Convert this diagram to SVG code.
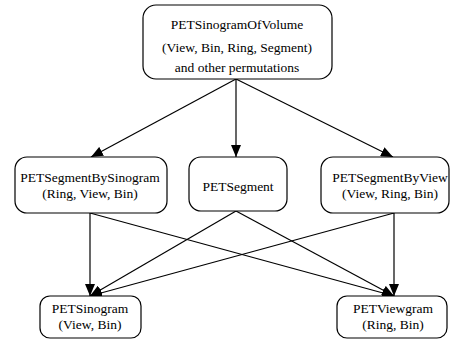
<svg xmlns="http://www.w3.org/2000/svg" width="451" height="340" viewBox="0 0 451 340">
<defs>
<style>
.n{fill:#fff;stroke:#000;stroke-width:1.2}
.t text{font-size:13.5px;text-anchor:middle;fill:#000}
.e{stroke:#000;stroke-width:1.2;fill:none;marker-end:url(#a)}
</style>
<marker id="a" markerUnits="userSpaceOnUse" markerWidth="12" markerHeight="10" viewBox="0 0 12 10" refX="12" refY="5" orient="auto">
<path d="M0,0 L12,5 L0,10 Z" fill="#000"/>
</marker>
</defs>
<rect width="451" height="340" fill="#fff"/>
<g id="edges">
<line class="e" x1="236" y1="79" x2="91" y2="157"/>
<line class="e" x1="236" y1="79" x2="236" y2="157"/>
<line class="e" x1="236" y1="79" x2="393" y2="157"/>
<line class="e" x1="90" y1="213" x2="90" y2="296"/>
<line class="e" x1="90" y1="213" x2="394" y2="296"/>
<line class="e" x1="236" y1="211" x2="90" y2="296"/>
<line class="e" x1="236" y1="211" x2="394" y2="296"/>
<line class="e" x1="394" y1="213" x2="394" y2="296"/>
<line class="e" x1="394" y1="213" x2="90" y2="296"/>
</g>
<g class="t" font-family="'Liberation Serif', 'Times New Roman', 'DejaVu Serif', serif">
<g id="volume">
<rect class="n" x="143" y="5" width="189" height="74" rx="13"/>
<text x="237" y="29">PETSinogramOfVolume</text>
<text x="237" y="52">(View, Bin, Ring, Segment)</text>
<text x="237" y="72">and other permutations</text>
</g>
<g id="segBySino">
<rect class="n" x="15" y="157" width="152" height="56" rx="12"/>
<text x="90" y="182">PETSegmentBySinogram</text>
<text x="90" y="198">(Ring, View, Bin)</text>
</g>
<g id="segment">
<rect class="n" x="189" y="157" width="98" height="54" rx="12"/>
<text x="238" y="191">PETSegment</text>
</g>
<g id="segByView">
<rect class="n" x="321" y="157" width="128" height="56" rx="12"/>
<text x="390" y="182">PETSegmentByView</text>
<text x="390" y="198">(View, Ring, Bin)</text>
</g>
<g id="sinogram">
<rect class="n" x="40" y="296" width="101" height="42" rx="10"/>
<text x="90" y="313">PETSinogram</text>
<text x="90" y="329">(View, Bin)</text>
</g>
<g id="viewgram">
<rect class="n" x="337" y="296" width="110" height="42" rx="10"/>
<text x="393" y="313">PETViewgram</text>
<text x="393" y="329">(Ring, Bin)</text>
</g>
</g>
</svg>
